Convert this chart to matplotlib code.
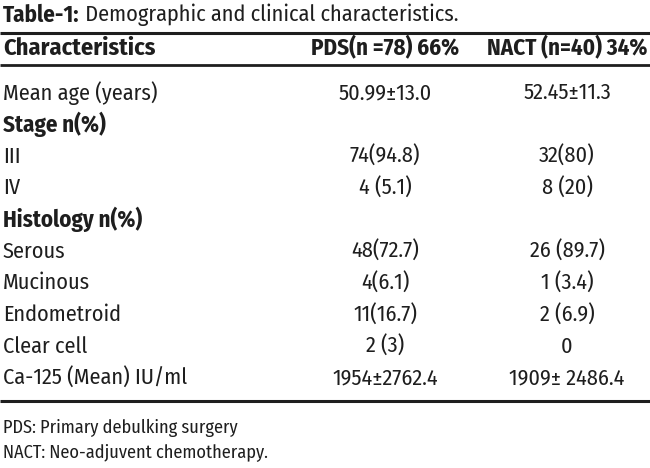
import matplotlib
matplotlib.use("Agg")
import matplotlib.pyplot as plt

FAM = ["Fira Sans Condensed", "PT Sans Narrow", "DejaVu Sans"]
plt.rcParams["font.family"] = FAM

title_bold = "Table-1:"
title_rest = " Demographic and clinical characteristics."
headers = ["Characteristics", "PDS(n =78) 66%", "NACT (n=40) 34%"]
characteristics = ["Mean age (years)", "Stage n(%)", "III", "IV", "Histology n(%)",
                   "Serous", "Mucinous", "Endometroid", "Clear cell", "Ca-125 (Mean) IU/ml"]
is_group = [False, True, False, False, True, False, False, False, False, False]
pds = ["50.99\u00b113.0", "", "74(94.8)", "4 (5.1)", "", "48(72.7)", "4(6.1)",
       "11(16.7)", "2 (3)", "1954\u00b12762.4"]
nact = ["52.45\u00b111.3", "", "32(80)", "8 (20)", "", "26 (89.7)", "1 (3.4)",
        "2 (6.9)", "0", "1909\u00b1 2486.4"]
footnotes = ["PDS: Primary debulking surgery", "NACT: Neo-adjuvent chemotherapy."]

W, H = 650, 468
fig = plt.figure(figsize=(W / 100, H / 100), dpi=100)
ax = fig.add_axes([0, 0, 1, 1])
ax.set_xlim(0, W)
ax.set_ylim(H, 0)
ax.axis("off")

TXT = "#1e1e1e"
FS = 16
FSB = 16.5
x_left = 3
x_pds = 385
x_nact = 567

# title
t = ax.text(x_left, 15, title_bold, fontsize=FSB, fontweight="bold", va="center", ha="left", color=TXT)
fig.canvas.draw()
bb = t.get_window_extent()
inv = ax.transData.inverted()
x_end = inv.transform((bb.x1, bb.y0))[0]
ax.text(x_end, 15, title_rest, fontsize=FS, va="center", ha="left", color=TXT)

# rules
ax.plot([0, W], [33, 33], color=TXT, lw=2.2, solid_capstyle="butt")
ax.plot([0, W], [65, 65], color=TXT, lw=2.0, solid_capstyle="butt")
ax.plot([0, W], [401, 401], color=TXT, lw=2.2, solid_capstyle="butt")

# header
y_head = 48
ax.text(x_left, y_head, headers[0], fontsize=17.5, fontweight="bold", va="center", ha="left", color=TXT)
ax.text(x_pds, y_head, headers[1], fontsize=16.5, fontweight="bold", va="center", ha="center", color=TXT)
ax.text(x_nact, y_head, headers[2], fontsize=16.5, fontweight="bold", va="center", ha="center", color=TXT)

# rows
y0, step = 93, 31.7
for i, (c, g, p, n) in enumerate(zip(characteristics, is_group, pds, nact)):
    y = y0 + i * step
    ax.text(x_left, y, c, fontsize=FSB if g else FS, fontweight="bold" if g else "normal",
            va="center", ha="left", color=TXT)
    if p:
        ax.text(x_pds, y, p, fontsize=FS, va="center", ha="center", color=TXT)
    if n:
        ax.text(x_nact, y, n, fontsize=FS, va="center", ha="center", color=TXT)

# footnotes
for j, f in enumerate(footnotes):
    ax.text(x_left, 428 + j * 24, f, fontsize=13.2, va="center", ha="left", color=TXT)

fig.savefig("out.png", dpi=100, facecolor="white")
